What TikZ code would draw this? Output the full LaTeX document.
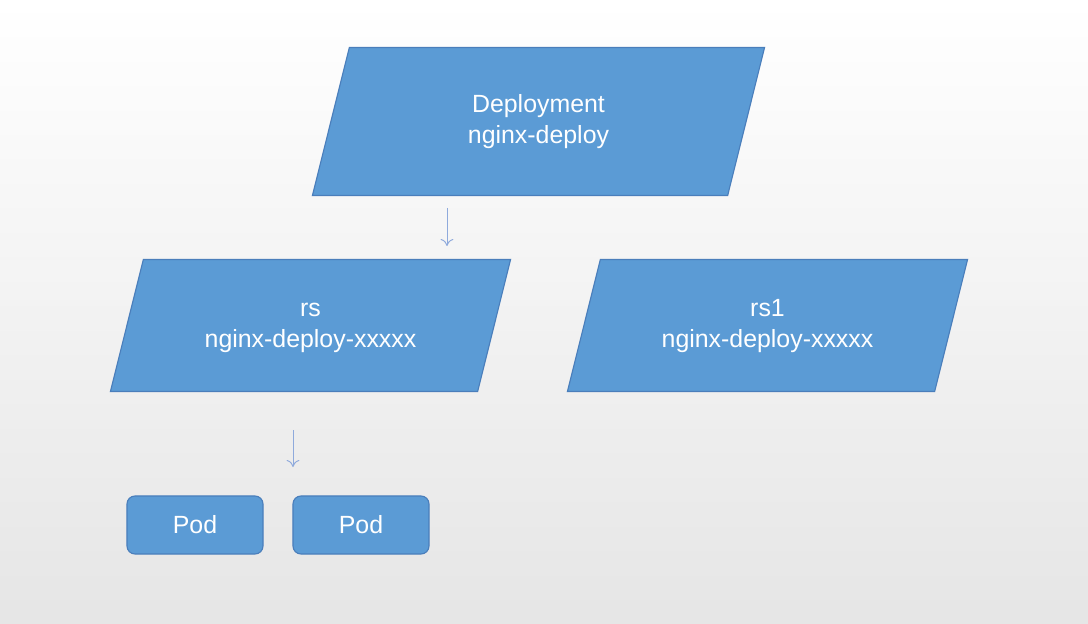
\documentclass[tikz,border=0pt]{standalone}
\usepackage{fontspec}
\setmainfont{Liberation Sans}
\usetikzlibrary{shapes.geometric,arrows.meta}
\definecolor{boxblue}{HTML}{5B9BD5}
\definecolor{boxline}{HTML}{4A7EBB}
\definecolor{arrowblue}{HTML}{8FAADC}

\begin{document}
\begin{tikzpicture}
	[x=0.025cm,y=-0.025cm,
	every node/.style={draw=boxline,fill=boxblue,text=white,line width=0.8pt,
		align=center,font=\fontsize{17.7}{22}\selectfont},
	para/.style={shape=trapezium,trapezium left angle=76,trapezium right angle=104,
		trapezium stretches body,inner xsep=0pt},
	pod/.style={shape=rectangle,rounded corners=0.2cm,minimum width=3.4cm,
		minimum height=1.45cm,inner sep=0pt},
	link/.style={draw=arrowblue,line width=0.7pt,-{To[length=5pt,width=9pt]}}]
	\shade[top color=white,bottom color=black!10] (0,0) rectangle (1088,624);
	\node[para,minimum width=11.3cm,inner ysep=30.6pt] (dep) at (538.5,121.5) {\strut Deployment\\\strut nginx-deploy};
	\node[para,minimum width=10cm,inner ysep=24.9pt] (rs) at (310.5,325.5) {\strut rs\\\strut nginx-deploy-xxxxx};
	\node[para,minimum width=10cm,inner ysep=24.9pt] (rs1) at (767.5,325.5) {\strut rs1\\\strut nginx-deploy-xxxxx};
	\node[pod] (pod1) at (195,525) {Pod};
	\node[pod] (pod2) at (361,525) {Pod};
	\coordinate (a1) at (447,208);
	\coordinate (a2) at (447,246);
	\coordinate (b1) at (293,430);
	\coordinate (b2) at (293,467);
	\path
	\foreach \startNode/\endNode in {a1/a2,b1/b2}
	{
		(\startNode) edge[link] (\endNode)
	};
\end{tikzpicture}
\end{document}
